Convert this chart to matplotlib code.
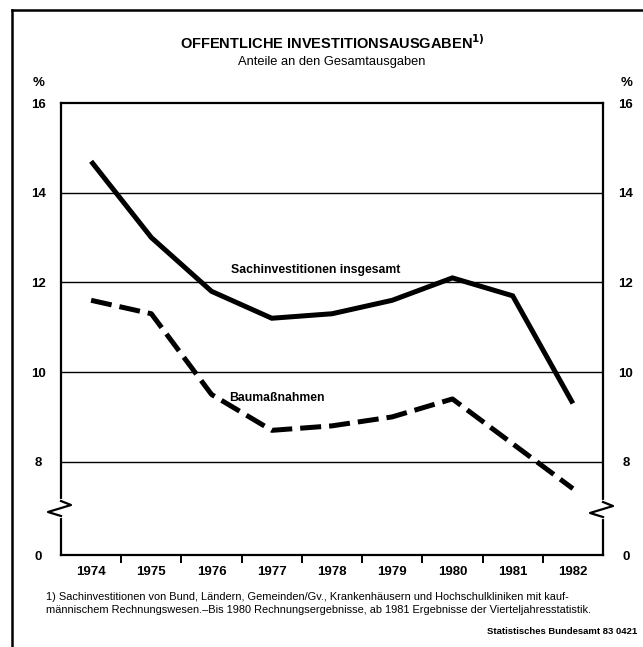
import matplotlib
matplotlib.use("Agg")
import matplotlib.pyplot as plt
from matplotlib.lines import Line2D

plt.rcParams['font.family'] = ['Liberation Sans', 'DejaVu Sans']

years = [1974, 1975, 1976, 1977, 1978, 1979, 1980, 1981, 1982]
sach = [14.7, 13.0, 11.8, 11.2, 11.3, 11.6, 12.1, 11.7, 9.3]
bau = [11.6, 11.3, 9.5, 8.7, 8.8, 9.0, 9.4, 8.4, 7.4]
ytick_vals = [8, 10, 12, 14, 16]
ytick_labels = ['8', '10', '12', '14', '16']

title = "OFFENTLICHE INVESTITIONSAUSGABEN"
subtitle = "Anteile an den Gesamtausgaben"
label_sach = "Sachinvestitionen insgesamt"
label_bau = "Baumaßnahmen"
foot1 = "1) Sachinvestitionen von Bund, Ländern, Gemeinden/Gv., Krankenhäusern und Hochschulkliniken mit kauf-"
foot2 = "männischem Rechnungswesen.–Bis 1980 Rechnungsergebnisse, ab 1981 Ergebnisse der Vierteljahresstatistik."
source = "Statistisches Bundesamt 83 0421"

W, H = 643, 647
fig = plt.figure(figsize=(W / 100, H / 100), dpi=100)
fig.patch.set_facecolor('white')

def fx(px):
    return px / W

def fy(py):
    return 1 - py / H

ax_l, ax_r, ax_t, ax_b = 61, 603, 103, 555
ax = fig.add_axes([fx(ax_l), fy(ax_b), fx(ax_r - ax_l), (ax_b - ax_t) / H])

ymin, ymax = 5.92, 16
ax.set_xlim(1973.5, 1982.5)
ax.set_ylim(ymin, ymax)

for v in ytick_vals[:-1]:
    ax.axhline(v, color='black', lw=1.0, zorder=1)

ax.plot(years, sach, color='black', lw=3.6, solid_capstyle='butt',
        solid_joinstyle='miter', zorder=3)
ax.plot(years, bau, color='black', lw=3.6, linestyle=(0, (4.2, 1.6)),
        dash_capstyle='butt', zorder=3)

ax.text(1976.32, 12.27, label_sach, fontsize=8.8, fontweight='bold', va='center', ha='left')
ax.text(1976.3, 9.42, label_bau, fontsize=8.8, fontweight='bold', va='center', ha='left')

for s in ax.spines.values():
    s.set_linewidth(1.6)

ax.set_xticks(years)
ax.set_xticklabels([str(y) for y in years], fontsize=9.5, fontweight='bold')
ax.set_xticks([y + 0.5 for y in years[:-1]], minor=True)
ax.tick_params(axis='x', which='major', length=0, pad=8)
ax.tick_params(axis='x', which='minor', length=6, width=1.4, direction='out')

ax.set_yticks([ymin] + ytick_vals)
ax.set_yticklabels(['0'] + ytick_labels, fontsize=9.5, fontweight='bold')
ax.tick_params(axis='y', which='both', length=0, pad=16.5, left=True, right=True,
               labelleft=True, labelright=True)
for t in ax.yaxis.get_major_ticks():
    t.label1.set_horizontalalignment('center')
    t.label2.set_horizontalalignment('center')

# axis breaks (zigzags)
def zig(xs_px, ys_px):
    xs = [fx(x) for x in xs_px]
    ys = [fy(y) for y in ys_px]
    fig.add_artist(Line2D([xs[0], xs[-1]], [ys[0], ys[-1]], color='white', lw=3, transform=fig.transFigure, zorder=9))
    fig.add_artist(Line2D(xs, ys, color='black', lw=1.6, transform=fig.transFigure, zorder=10))

zig([61, 71, 48, 61], [501, 505, 512, 516])
zig([603, 613, 590, 603], [502, 506, 513, 517])

# percent signs
fig.text(fx(39), fy(83), "%", fontsize=9.5, fontweight='bold', ha='center', va='center')
fig.text(fx(627), fy(83), "%", fontsize=9.5, fontweight='bold', ha='center', va='center')

# titles
fig.text(fx(332), fy(43), title + r"$^{\mathbf{1)}}$", fontsize=10.5, fontweight='bold', ha='center', va='center')
fig.text(fx(332), fy(62), subtitle, fontsize=9.3, ha='center', va='center')

# footnotes
fig.text(fx(46), fy(597), foot1, fontsize=7.9, ha='left', va='center')
fig.text(fx(46), fy(610), foot2, fontsize=7.9, ha='left', va='center')
fig.text(fx(637), fy(632), source, fontsize=6.8, fontweight='bold', ha='right', va='center')

# outer frame
fig.add_artist(Line2D([fx(12), fx(12)], [fy(10), fy(647)], color='black', lw=1.8, transform=fig.transFigure))
fig.add_artist(Line2D([fx(12), fx(643)], [fy(10), fy(10)], color='black', lw=1.8, transform=fig.transFigure))

fig.savefig("out.png", dpi=100, facecolor='white')
